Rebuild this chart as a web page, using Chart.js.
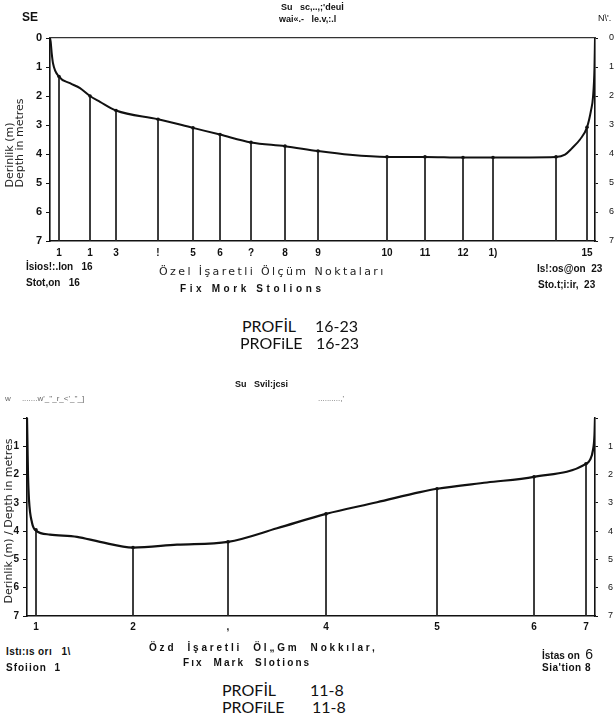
<!DOCTYPE html>
<html><head><meta charset="utf-8">
<script src="https://cdn.jsdelivr.net/npm/chart.js@4/dist/chart.umd.min.js"></script>
<style>
html,body{margin:0;padding:0;background:#fff;}
body{width:615px;height:727px;position:relative;overflow:hidden;font-family:"Liberation Sans",Arial,sans-serif;color:#111;}
.t{position:absolute;white-space:nowrap;line-height:1;}
.b{font-weight:bold;}
.rot{position:absolute;white-space:nowrap;line-height:1;transform:translate(-50%,-50%) rotate(-90deg);font-family:"DejaVu Sans",sans-serif;font-size:11px;color:#222;}
.prof{position:absolute;white-space:nowrap;font-family:Lato,"Open Sans",sans-serif;font-size:16px;color:#111;line-height:1;}
.hand{font-family:"DejaVu Sans",sans-serif;font-size:11px;letter-spacing:2.4px;color:#222;}
</style></head>
<body>
<div style="position:absolute;left:0;top:0;width:615px;height:275px"><canvas id="c1"></canvas></div>
<div style="position:absolute;left:0;top:380px;width:615px;height:262px"><canvas id="c2"></canvas></div>

<!-- Profile 16-23 texts -->
<div class="t b" style="left:22px;top:11px;font-size:12px">SE</div>
<div class="t b" style="left:281px;top:3px;font-size:9px">Su&nbsp;&nbsp;&nbsp;sc,..,;'deuİ</div>
<div class="t b" style="left:279px;top:15px;font-size:9px">wai«.-&nbsp;&nbsp;&nbsp;le.v,:.l</div>
<div class="t" style="left:598px;top:14px;font-size:9px">N\'.</div>
<div class="rot" style="left:9px;top:155px">Derinlik (m)</div>
<div class="rot" style="left:19px;top:143px">Depth in metres</div>
<div class="t b" style="left:26px;top:262px;font-size:10px">İsios!:.lon&nbsp;&nbsp;&nbsp;16</div>
<div class="t b" style="left:26px;top:278px;font-size:10px">Stot,on&nbsp;&nbsp;&nbsp;16</div>
<div class="t hand" style="left:159px;top:266px">Özel İşaretli Ölçüm Noktaları</div>
<div class="t b" style="left:180px;top:284px;font-size:10px;letter-spacing:3.6px">Fix Mork Stolions</div>
<div class="t b" style="left:537px;top:264px;font-size:10px">Is!:os@on&nbsp;&nbsp;23</div>
<div class="t b" style="left:538px;top:280px;font-size:10px">Sto.t;i:ir,&nbsp;&nbsp;23</div>
<div class="prof" style="left:242px;top:318px">PROFİL</div>
<div class="prof" style="left:315px;top:318px">16-23</div>
<div class="prof" style="left:240px;top:335px">PROFiLE</div>
<div class="prof" style="left:316px;top:335px">16-23</div>

<!-- Profile 11-8 texts -->
<div class="t b" style="left:235px;top:380px;font-size:9px">Su&nbsp;&nbsp;&nbsp;Svil:jcsi</div>
<div class="t" style="left:5px;top:395px;font-size:8px;color:#666">w&nbsp;&nbsp;&nbsp;&nbsp;&nbsp;.......w'_''_r_&lt;'_''_]</div>
<div class="t" style="left:318px;top:395px;font-size:8px;color:#666">..........,'</div>
<div class="rot" style="left:8px;top:521px">Derinlik (m) / Depth in metres</div>
<div class="t b" style="left:6px;top:647px;font-size:10px;letter-spacing:0.4px">Istı:ıs orı&nbsp;&nbsp;&nbsp;1\</div>
<div class="t b" style="left:6px;top:663px;font-size:10px;letter-spacing:1px">Sfoiion&nbsp;&nbsp;1</div>
<div class="t b" style="left:149px;top:643px;font-size:10px;letter-spacing:2.8px">Özd&nbsp; İşaretli&nbsp; Öl„Gm&nbsp; Nokkılar,</div>
<div class="t b" style="left:183px;top:658px;font-size:10px;letter-spacing:2.1px">Fıx&nbsp; Mark&nbsp; Slotions</div>
<div class="t b" style="left:542px;top:647px;font-size:10px">İstas on&nbsp;&nbsp;<span style="font-weight:normal;font-size:14px">6</span></div>
<div class="t b" style="left:542px;top:663px;font-size:10px;letter-spacing:0.5px">Sia'tion&nbsp;8</div>
<div class="prof" style="left:222px;top:682px">PROFİL</div>
<div class="prof" style="left:310px;top:682px">11-8</div>
<div class="prof" style="left:222px;top:699px">PROFiLE</div>
<div class="prof" style="left:312px;top:699px">11-8</div>

<script>
// ---- Profile 16-23 (SE -> NW) ----
const p1Stations = [9, 40, 66, 108, 143, 170, 201, 235, 268, 337, 375, 413, 443, 506, 537];
const p1Depths   = [1.33, 2.0, 2.5, 2.8, 3.1, 3.33, 3.6, 3.73, 3.9, 4.1, 4.1, 4.12, 4.12, 4.1, 3.08];
const p1Labels   = ["1","1","3","!","5","6","?","8","9","10","11","12","1)","","15"];
const p1ProfileX = [0, 0.7, 1.7, 3, 9, 20, 30, 40, 50, 66, 108, 143, 170, 201, 235, 268, 300, 337, 375, 413, 443, 506, 515, 522, 530, 537, 541, 543, 544.5, 545];
const p1ProfileY = [0, 0.13, 0.52, 0.87, 1.33, 1.56, 1.73, 2.0, 2.2, 2.5, 2.8, 3.1, 3.33, 3.6, 3.73, 3.9, 4.03, 4.1, 4.1, 4.12, 4.12, 4.1, 4.02, 3.8, 3.5, 3.08, 2.5, 2.04, 1.0, 0];
const p1Length = 545;

// ---- Profile 11-8 ----
const p2Stations = [9, 106, 201, 299, 410, 507, 559];
const p2Depths   = [3.95, 4.58, 4.38, 3.39, 2.5, 2.08, 1.62];
const p2Labels   = ["1","2",",","4","5","6","7"];
const p2ProfileX = [0, 0.5, 1, 2, 5, 9, 23, 50, 73, 106, 150, 201, 250, 299, 350, 393, 410, 460, 507, 559, 563, 566, 567.5, 568];
const p2ProfileY = [0, 1.0, 2.0, 2.9, 3.7, 3.98, 4.12, 4.2, 4.38, 4.58, 4.48, 4.38, 3.9, 3.39, 2.98, 2.62, 2.5, 2.28, 2.08, 1.62, 1.48, 1.13, 0.6, 0];
const p2Length = 568;

const depthTicks = [0,1,2,3,4,5,6,7];
const maxDepth = 7;

function makeProfile(id, cfg){
  const profile = cfg.px.map((x,i)=>({x:x, y:cfg.py[i]}));
  const pts = cfg.sx.map((x,i)=>({x:x, y:cfg.sd[i]}));
  const drops = [];
  cfg.sx.forEach((x,i)=>{ drops.push({x:x,y:cfg.sd[i]}); drops.push({x:x,y:maxDepth}); drops.push({x:x,y:null}); });
  const scales = {
    x: {type:'linear', position:'bottom', min:0, max:cfg.len,
        afterBuildTicks: s => { s.ticks = cfg.sx.map(v=>({value:v})); },
        afterFit: s => { s.height = cfg.xh; },
        grid:{display:false, drawTicks:false}, border:{display:true, color:'#111', width:1.6},
        ticks:{autoSkip:false, maxRotation:0, padding:cfg.xpad, color:'#111',
               font:{family:'Liberation Sans', size:10, weight:'bold'},
               callback:(v,i)=>cfg.labels[i]}},
    y: {type:'linear', position:'left', reverse:true, min:0, max:maxDepth,
        afterBuildTicks: s => { s.ticks = depthTicks.map(v=>({value:v})); },
        afterFit: s => { s.width = cfg.lw; },
        grid:{drawOnChartArea:false, tickLength:4, color:'#111', lineWidth:1},
        border:{display:true, color:'#111', width:1.6},
        ticks:{padding:cfg.lpad, color:'#111', font:{family:'Liberation Sans', size:cfg.lfs, weight:'bold'},
               callback:v => (cfg.hideZero && v===0) ? '' : String(v)}},
    y2:{type:'linear', position:'right', reverse:true, min:0, max:maxDepth,
        afterBuildTicks: s => { s.ticks = depthTicks.map(v=>({value:v})); },
        afterFit: s => { s.width = 20; },
        grid:{drawOnChartArea:false, tickLength:3, color:'#111', lineWidth:1},
        border:{display:true, color:'#111', width:1.6},
        ticks:{padding:cfg.rpad, color:'#111', font:{family:'Liberation Sans', size:9},
               callback:v => (cfg.hideZero && v===0) ? '' : String(v)}}
  };
  if(cfg.topFrame){
    scales.xTop = {type:'linear', position:'top', min:0, max:cfg.len,
      afterFit: s => { s.height = 0; }, grid:{display:false, drawTicks:false},
      border:{display:true, color:'#333', width:1.2}, ticks:{display:false}};
  }
  return new Chart(document.getElementById(id), {
    type:'line',
    data:{datasets:[
      {data:profile, borderColor:'#111', borderWidth:cfg.curveWidth, pointRadius:0, cubicInterpolationMode:'monotone', fill:false},
      {data:drops, borderColor:'#222', borderWidth:1, pointRadius:0, tension:0, spanGaps:false, fill:false},
      {data:pts, showLine:false, pointRadius:1.8, pointBackgroundColor:'#111', pointBorderWidth:0}
    ]},
    options:{
      responsive:true, maintainAspectRatio:false, animation:false,
      layout:{padding:{top:cfg.padTop, left:0, right:0, bottom:0}},
      plugins:{legend:{display:false}, tooltip:{enabled:false}},
      scales:scales
    }
  });
}

makeProfile('c1', {px:p1ProfileX, py:p1ProfileY, sx:p1Stations, sd:p1Depths, labels:p1Labels, len:p1Length,
  xh:34, xpad:6, lw:50, lpad:4, lfs:11, rpad:11, padTop:38, hideZero:false, topFrame:true, curveWidth:2});
makeProfile('c2', {px:p2ProfileX, py:p2ProfileY, sx:p2Stations, sd:p2Depths, labels:p2Labels, len:p2Length,
  xh:26, xpad:5, lw:27, lpad:4, lfs:10, rpad:10, padTop:38, hideZero:true, topFrame:false, curveWidth:2.2});
</script>
</body></html>
